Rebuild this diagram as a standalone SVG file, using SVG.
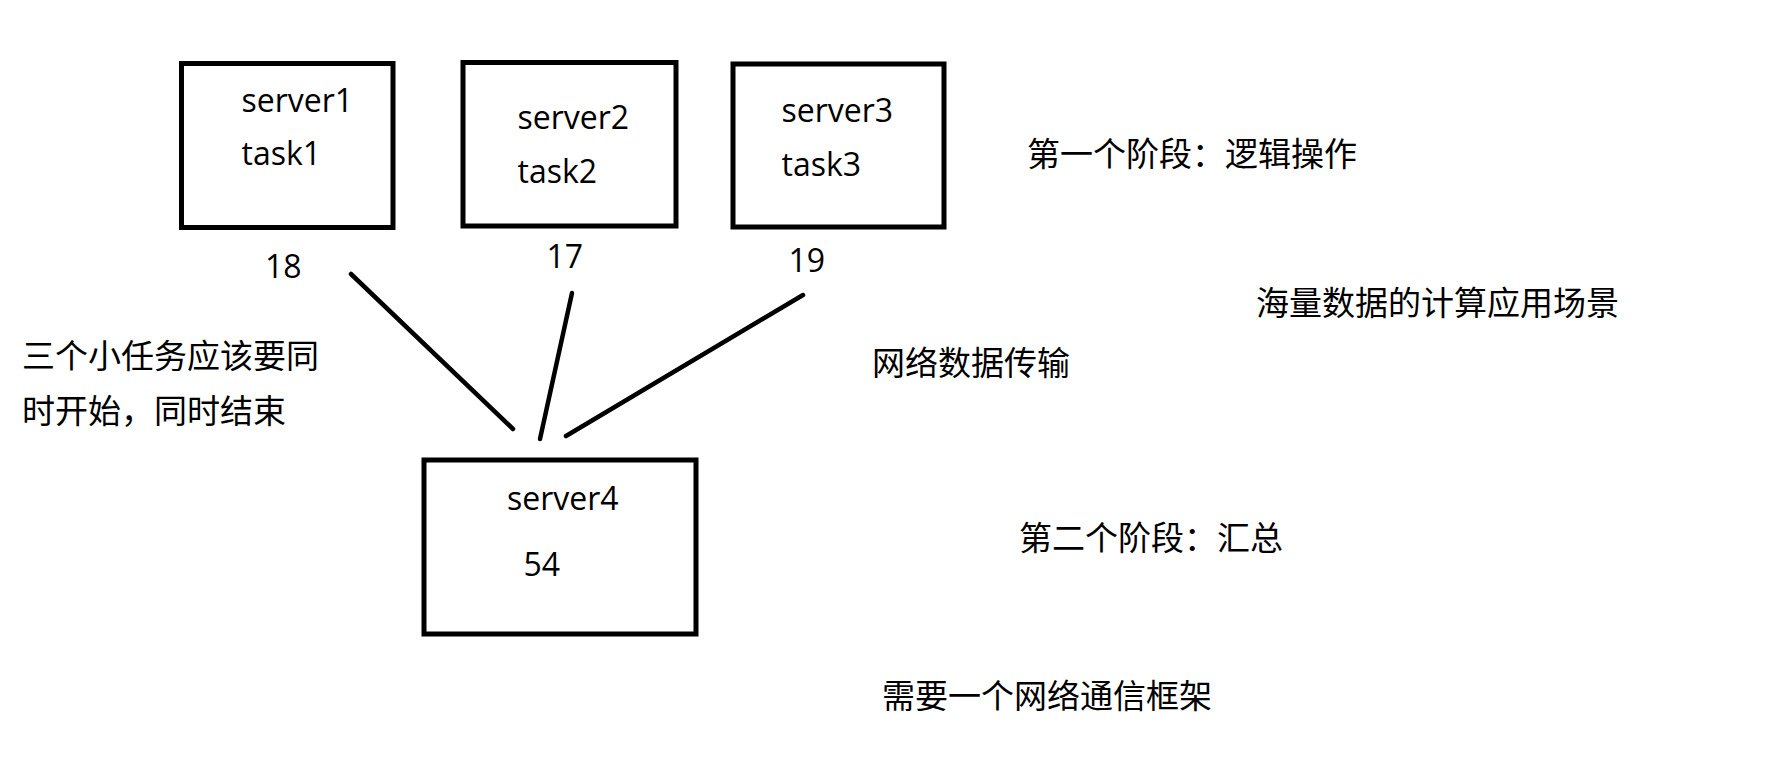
<svg xmlns="http://www.w3.org/2000/svg" width="1779" height="765" viewBox="0 0 1779 765">
<style>
.box{fill:none;stroke:#000;stroke-width:5}
.lat{font-family:"Open Sans","Noto Sans",sans-serif;font-size:32px;fill:#000}
.cjk{font-family:"Noto Sans CJK SC",sans-serif;font-size:33px;fill:#000}
.conn line{stroke:#000;stroke-width:4.5;stroke-linecap:round}
</style>
<rect width="1779" height="765" fill="#fff"/>
<g id="server1">
<rect class="box" x="181.5" y="63.5" width="211.5" height="164"/>
<text class="lat" x="241.5" y="111.5">server1</text>
<text class="lat" x="241.5" y="165">task1</text>
<text class="lat" x="265" y="278">18</text>
</g>
<g id="server2">
<rect class="box" x="463" y="62.5" width="213" height="163.5"/>
<text class="lat" x="517.5" y="129">server2</text>
<text class="lat" x="546.5" y="268">17</text>
<text class="lat" x="517.5" y="183">task2</text>
</g>
<g id="server3">
<rect class="box" x="733" y="64" width="211" height="163"/>
<text class="lat" x="781.5" y="121.5">server3</text>
<text class="lat" x="781.5" y="176">task3</text>
<text class="lat" x="788.5" y="271.5">19</text>
</g>
<g id="server4">
<rect class="box" x="424" y="460" width="272" height="174"/>
<text class="lat" x="507" y="510">server4</text>
<text class="lat" x="523.5" y="576">54</text>
</g>
<g id="connectors" class="conn">
<line x1="351" y1="274" x2="513" y2="429"/>
<line x1="572" y1="293" x2="540" y2="439"/>
<line x1="803" y1="295" x2="566" y2="436"/>
</g>
<g id="notes">
<text class="cjk" x="22" y="368">三个小任务应该要同</text>
<text class="cjk" x="22" y="423">时开始，同时结束</text>
<text class="cjk" x="1027" y="166">第一个阶段：逻辑操作</text>
<text class="cjk" x="1256" y="315">海量数据的计算应用场景</text>
<text class="cjk" x="872" y="375">网络数据传输</text>
<text class="cjk" x="1019" y="550">第二个阶段：汇总</text>
<text class="cjk" x="882" y="708">需要一个网络通信框架</text>
</g>
</svg>
